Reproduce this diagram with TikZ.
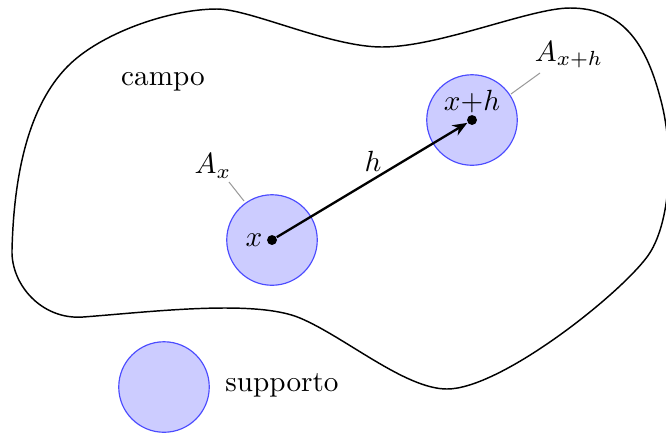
\documentclass[tikz,border=0pt]{standalone}
\usetikzlibrary{arrows.meta}
\begin{document}
\begin{tikzpicture}[x=0.3425pt,y=-0.3425pt,
  region/.style={circle,draw=blue!70,fill=blue!20,line width=0.4pt,minimum size=31pt,inner sep=0pt},
  pt/.style={circle,fill=black,minimum size=3.4pt,inner sep=0pt},
  lbl/.style={inner sep=0pt},
  leader/.style={draw=gray!80,line width=0.35pt},
  vec/.style={draw=black,line width=0.8pt,-{Stealth[length=5pt,width=4pt]}}]
\useasboundingbox (0,0) rectangle (666,432);
% field boundary
\draw[line width=0.5pt] (12,250)
  .. controls (14,170) and (30,105) .. (67,67)
  .. controls (100,33) and (170,9) .. (217,9)
  .. controls (250,9) and (330,47) .. (382,47)
  .. controls (440,47) and (530,8) .. (570,8)
  .. controls (620,8) and (645,40) .. (660,97)
  .. controls (675,150) and (671,225) .. (647,257)
  .. controls (617,297) and (500,389) .. (447,389)
  .. controls (405,389) and (345,337) .. (300,318)
  .. controls (255,299) and (150,312) .. (83,317)
  .. controls (42,320) and (11,285) .. cycle;
% regions
\node[region] (Ax) at (272,240) {};
\node[region] (Axh) at (472,120) {};
\node[region] (supp) at (164,387) {};
% points
\node[pt] (px) at (272,240) {};
\node[pt] (pxh) at (472,120) {};
\draw[vec] (px) -- (pxh);
% labels
\node[lbl] (lx) at (254,240) {$x$};
\node[lbl] (lxh) at (472,102) {$x{+}h$};
\node[lbl] (lh) at (373,161) {$h$};
\node[lbl] (lAx) at (213,166) {$A_x$};
\node[lbl] (lAxh) at (569,55) {$A_{x+h}$};
\node[lbl] (campo) at (163,82) {campo};
\node[lbl] (supporto) at (282,385) {supporto};
% leaders
\coordinate (a1) at (229,182);
\coordinate (a2) at (244,201);
\coordinate (b1) at (540,73);
\coordinate (b2) at (511,94);
\draw[leader] (a1) -- (a2);
\draw[leader] (b1) -- (b2);
\end{tikzpicture}
\end{document}
